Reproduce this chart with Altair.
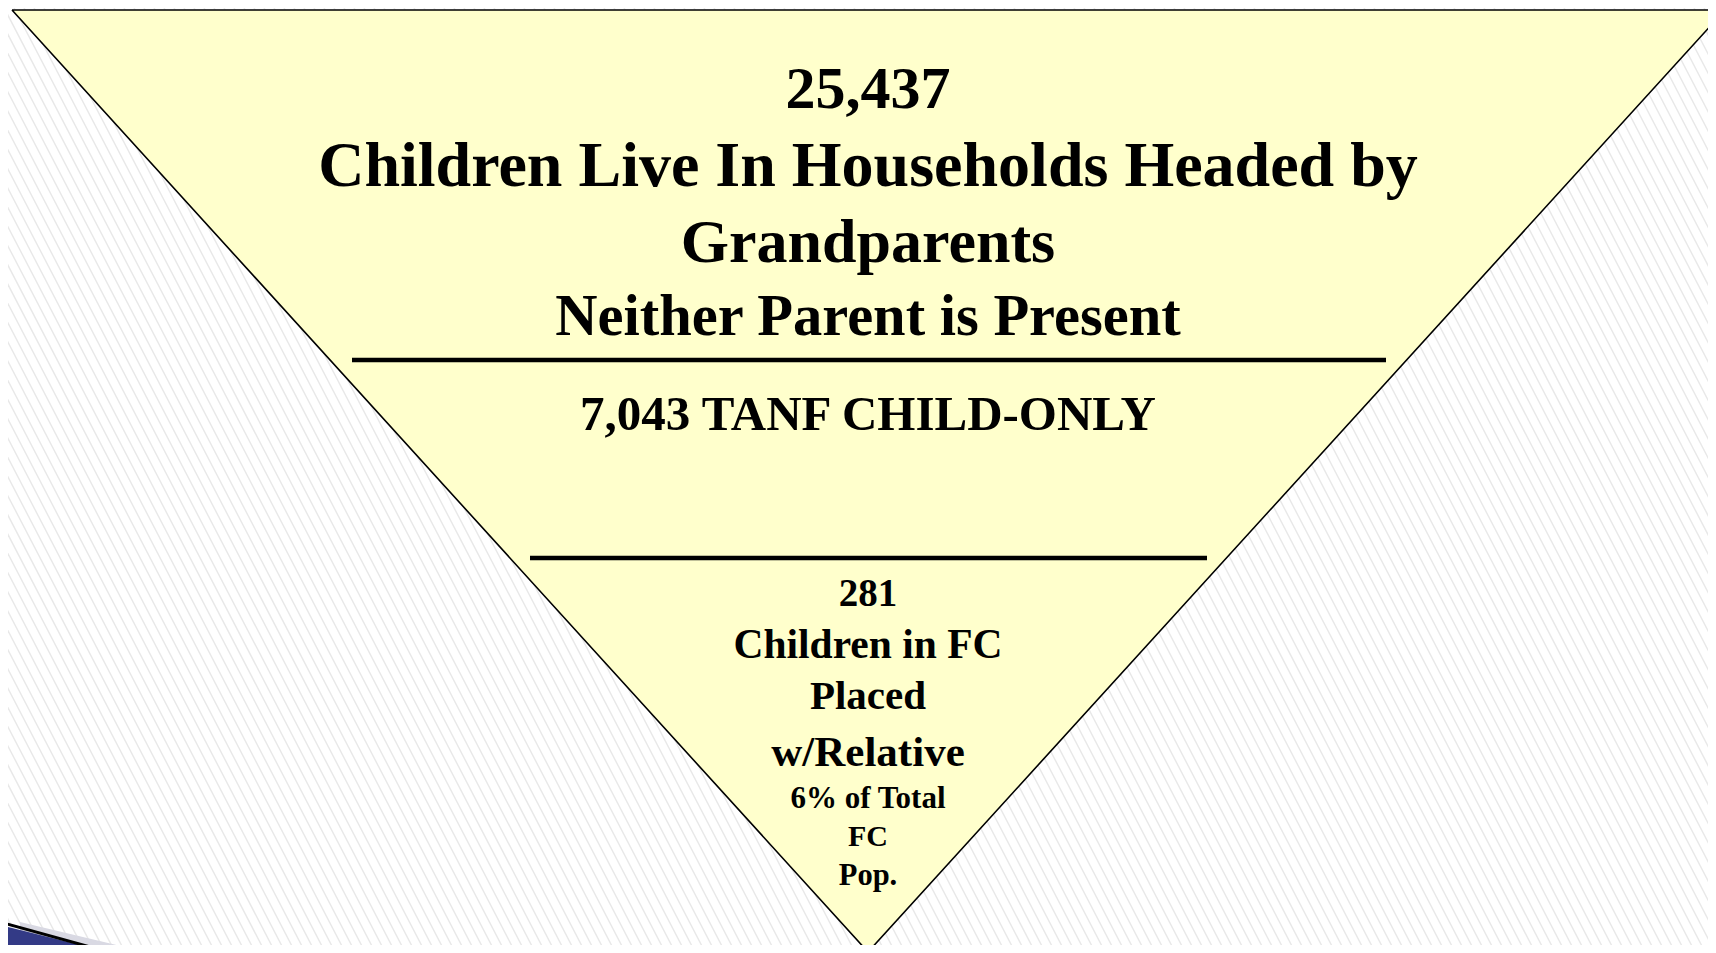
import altair as alt
import pandas as pd

# ---- text content ----
top_lines = ["25,437", "Children Live In Households Headed by", "Grandparents", "Neither Parent is Present"]
top_y = [90, 167, 243, 317]
top_size = [60, 64, 62, 58.5]

mid_lines = ["7,043 TANF CHILD-ONLY"]
mid_y = [415]
mid_size = [49]

bottom_lines = ["281", "Children in FC", "Placed", "w/Relative", "6% of Total", "FC", "Pop."]
bottom_y = [594, 646, 697, 753, 799, 837, 876]
bottom_size = [39, 41.5, 41, 43, 31, 30, 30.5]

CENTER_X = 868

# ---- shape geometry (reference pixel space) ----
tri_x = [12, 868, 1725]
tri_top = [10, 10, 10]
tri_bottom = [10, 952, 10]
outline_x = [12, 1725, 868, 12]
outline_y = [10, 10, 952, 10]

div_x1 = [352, 530]
div_x2 = [1386, 1207]
div_y = [360, 558]

sw_x = [0, 112]
sw_top = [925, 953]
sw_bot = [953, 953]
shadow_x = [20, 150]
shadow_top = [922, 953]
edge_x = [0, 112]
edge_y = [922, 953]

W, H = 1700, 937
xs = alt.Scale(domain=[8, 8 + W], nice=False, zero=False)
ys = alt.Scale(domain=[8, 8 + H], nice=False, zero=False, reverse=True)

def X(f):
    return alt.X(f, type="quantitative", scale=xs, axis=None)

def Y(f):
    return alt.Y(f, type="quantitative", scale=ys, axis=None)

# background hatching
hatch = alt.Chart(alt.sequence(-600, 1730, 10, as_="h")).transform_calculate(
    x1="datum.h", x2="datum.h + 0.52 * 960", y1="0", y2="960"
).mark_rule(clip=True, stroke="#e8e8e8", strokeWidth=1.4).encode(
    x=X("x1"), x2="x2:Q", y=Y("y1"), y2="y2:Q"
)

shadow = alt.Chart(pd.DataFrame({"x": shadow_x, "t": shadow_top, "b": [953, 953]})).mark_area(
    clip=True, color="#d9d9e3"
).encode(x=X("x"), y=Y("t"), y2="b:Q")

swoosh = alt.Chart(pd.DataFrame({"x": sw_x, "t": sw_top, "b": sw_bot})).mark_area(
    clip=True, color="#333a86"
).encode(x=X("x"), y=Y("t"), y2="b:Q")

edge = alt.Chart(pd.DataFrame({"x": edge_x, "y": edge_y})).mark_line(
    clip=True, color="#000000", strokeWidth=3
).encode(x=X("x"), y=Y("y"))

tri_fill = alt.Chart(pd.DataFrame({"x": tri_x, "t": tri_top, "b": tri_bottom})).mark_area(
    clip=True, color="#FFFFCC", opacity=1
).encode(x=X("x"), y=Y("t"), y2="b:Q")

tri_line = alt.Chart(pd.DataFrame({"x": outline_x, "y": outline_y, "o": [0, 1, 2, 3]})).mark_line(
    clip=True, color="#000000", strokeWidth=1.6
).encode(x=X("x"), y=Y("y"), order="o:Q")

dividers = alt.Chart(pd.DataFrame({"x1": div_x1, "x2": div_x2, "y": div_y})).mark_rule(
    clip=True, color="#000000", strokeWidth=4.5
).encode(x=X("x1"), x2="x2:Q", y=Y("y"))

def text_layer(lines, yy, sizes):
    df = pd.DataFrame({"t": lines, "y": yy, "fs": sizes, "x": [CENTER_X] * len(lines)})
    return alt.Chart(df).mark_text(
        clip=True, font="Liberation Serif", fontWeight="bold", color="#000000",
        align="center", baseline="middle"
    ).encode(x=X("x"), y=Y("y"), text="t:N", size=alt.Size("fs:Q", scale=None, legend=None))

texts = text_layer(top_lines, top_y, top_size) + text_layer(mid_lines, mid_y, mid_size) + \
    text_layer(bottom_lines, bottom_y, bottom_size)

chart = alt.layer(hatch, shadow, swoosh, edge, tri_fill, tri_line, dividers, texts).properties(
    width=W, height=H, padding=0, background="#ffffff",
    autosize=alt.AutoSizeParams(type="none")
).configure_view(stroke=None)

chart.save("out.html", embed_options={"renderer": "svg", "actions": False})
